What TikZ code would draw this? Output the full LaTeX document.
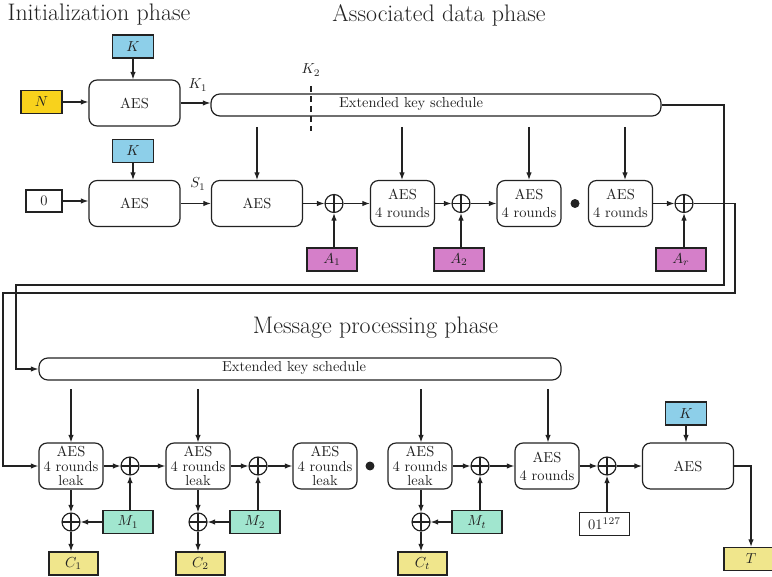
\RequirePackage{fix-cm}
\documentclass[tikz,border=0pt]{standalone}
\usetikzlibrary{arrows.meta}
\definecolor{kblue}{HTML}{8DCFE9}
\definecolor{ngold}{HTML}{F8D21C}
\definecolor{apink}{HTML}{D57FC9}
\definecolor{mgreen}{HTML}{A1E6CF}
\definecolor{cyel}{HTML}{F0E68C}
\definecolor{ink}{HTML}{222222}
\begin{document}
\begin{tikzpicture}[x=0.69pt,y=-0.69pt,line width=0.83pt,draw=ink,
  every node/.style={font=\normalsize,text=ink},
  aes/.style={draw,rounded corners=5.5pt,minimum width=62.8pt,minimum height=31.7pt,inner sep=0pt,align=center,line width=0.83pt},
  aesf/.style={aes,minimum width=44.2pt,font=\fontsize{10}{12.4}\selectfont},
  aesl/.style={aes,minimum width=44.2pt,font=\fontsize{10}{10}\selectfont},
  ibox/.style={draw,rectangle,minimum width=34.5pt,minimum height=15.9pt,inner sep=0pt,line width=0.8pt},
  kbox/.style={ibox,fill=kblue,minimum width=28.3pt},
  nbox/.style={ibox,fill=ngold,minimum width=28.3pt},
  abox/.style={ibox,fill=apink},
  mbox/.style={ibox,fill=mgreen},
  cbox/.style={ibox,fill=cyel,minimum width=33.8pt},
  ext/.style={draw,rounded corners=6.2pt,minimum height=15.2pt,inner sep=0pt,line width=0.83pt},
  xor/.style={circle,draw,minimum size=12.4pt,inner sep=0pt,line width=0.83pt,
    path picture={\draw[line width=0.83pt] (path picture bounding box.north)--(path picture bounding box.south)
      (path picture bounding box.west)--(path picture bounding box.east);}},
  dot/.style={circle,fill=ink,minimum size=6.2pt,inner sep=0pt},
  arr/.style={-{Latex[length=5.2pt,width=3.8pt]}},
  ttl/.style={font=\fontsize{16.5}{20}\selectfont}]
\useasboundingbox (0,0) rectangle (772,577);

% titles
\node[ttl] (t1) at (99,15) {Initialization phase};
\node[ttl] (t2) at (439,15) {Associated data phase};
\node[ttl] (t3) at (375.5,328) {Message processing phase};

% row 1
\node[kbox] (K1) at (133,46.5) {$K$};
\node[nbox] (N) at (41.5,102) {$N$};
\node[aes] (AES1) at (134.5,103) {AES};
\node[ext,minimum width=310.5pt] (ext1) at (436,105) {};
\node (ext1t) at (411,104) {Extended key schedule};
\node (K1l) at (198,85) {$K_1$};
\node (K2l) at (311,70) {$K_2$};
\coordinate (k2a) at (311,86);
\coordinate (k2b) at (311,131);
\draw[dash pattern=on 4.1pt off 2.8pt] (k2a) -- (k2b);
\draw[arr] (N) -- (N -| AES1.west);
\draw[arr] (K1.south) -- (K1.south |- AES1.north);
\draw[arr] (AES1.east) -- (AES1.east -| ext1.west);

% row 2
\node[ibox,minimum width=24.8pt,minimum height=15.2pt] (zero) at (44,201) {0};
\node[kbox] (K2) at (133,151) {$K$};
\node[aes] (AES2) at (134.5,203.5) {AES};
\node (S1l) at (198,184) {$S_1$};
\node[aes] (AES3) at (257,203.5) {AES};
\node[xor] (x1) at (334,203.5) {};
\node[abox] (A1) at (332,259.5) {$A_1$};
\node[aesf] (R1) at (402.5,203.5) {AES\\4 rounds};
\node[xor] (x2) at (461,203.5) {};
\node[abox] (A2) at (459,259.5) {$A_2$};
\node[aesf] (R2) at (529,203.5) {AES\\4 rounds};
\node[dot] (d1) at (575,203.5) {};
\node[aesf] (R3) at (620.5,203.5) {AES\\4 rounds};
\node[xor] (x3) at (684,203.5) {};
\node[abox] (Ar) at (681,259.5) {$A_r$};

\draw[arr] (zero) -- (zero -| AES2.west);
\draw[arr] (K2.south) -- (K2.south |- AES2.north);
\draw[arr] (AES2.east) -- (AES3.west);
\draw[arr] (AES3.east) -- (x1.west);
\draw[arr] (x1.east) -- (R1.west);
\draw[arr] (R1.east) -- (x2.west);
\draw[arr] (x2.east) -- (R2.west);
\draw[arr] (R3.east) -- (x3.west);
\draw[arr] (A1.north -| x1) -- (x1.south);
\draw[arr] (A2.north -| x2) -- (x2.south);
\draw[arr] (Ar.north -| x3) -- (x3.south);

\coordinate (ka) at (257,127);
\coordinate (kb) at (402,127);
\coordinate (kc) at (529,127);
\coordinate (kd) at (625,127);
\draw[arr] (ka) -- (ka |- AES3.north);
\draw[arr] (kb) -- (kb |- R1.north);
\draw[arr] (kc) -- (kc |- R2.north);
\draw[arr] (kd) -- (kd |- R3.north);

% row 3
\node[ext,minimum width=360.2pt] (ext2) at (300,369) {};
\node (ext2t) at (294,368) {Extended key schedule};
\node[aesl] (L1) at (71,466) {AES\\4 rounds\\leak};
\node[xor] (xa) at (130,466) {};
\node[aesl] (L2) at (198,466) {AES\\4 rounds\\leak};
\node[xor] (xb) at (258,466) {};
\node[aesl] (L3) at (325,466) {AES\\4 rounds\\leak};
\node[dot] (d2) at (370,466) {};
\node[aesl] (Lt) at (420,466) {AES\\4 rounds\\leak};
\node[xor] (xc) at (480,466) {};
\node[aesf] (R4) at (547,466) {AES\\4 rounds};
\node[xor] (xd) at (607,466) {};
\node[aes] (AESf) at (688,466) {AES};
\node[kbox] (Kf) at (686,413.5) {$K$};
\node[cbox,minimum width=37.3pt] (T) at (751,559) {$T$};
\node[ibox] (z127) at (604.5,524) {$01^{127}$};

\node[xor] (xs1) at (71,522) {};
\node[mbox] (M1) at (128,522) {$M_1$};
\node[cbox] (C1) at (73.5,563.5) {$C_1$};
\node[xor] (xs2) at (198,522) {};
\node[mbox] (M2) at (255,522) {$M_2$};
\node[cbox] (C2) at (200.5,563.5) {$C_2$};
\node[xor] (xst) at (421,522) {};
\node[mbox] (Mt) at (477,522) {$M_t$};
\node[cbox] (Ct) at (422.5,563.5) {$C_t$};

\coordinate (ma) at (71,389);
\coordinate (mb) at (198,389);
\coordinate (mc) at (421,389);
\coordinate (md) at (548,389);
\draw[arr] (ma) -- (ma |- L1.north);
\draw[arr] (mb) -- (mb |- L2.north);
\draw[arr] (mc) -- (mc |- Lt.north);
\draw[arr] (md) -- (md |- R4.north);

\draw[arr] (L1.east) -- (xa.west);
\draw[arr] (xa.east) -- (L2.west);
\draw[arr] (L2.east) -- (xb.west);
\draw[arr] (xb.east) -- (L3.west);
\draw[arr] (Lt.east) -- (xc.west);
\draw[arr] (xc.east) -- (R4.west);
\draw[arr] (R4.east) -- (xd.west);
\draw[arr] (xd.east) -- (AESf.west);
\draw[arr] (z127.north -| xd) -- (xd.south);
\draw[arr] (Kf.south) -- (Kf.south |- AESf.north);
\draw[arr] (AESf.east) -| (T.north);

\draw[arr] (L1.south) -- (xs1.north);
\draw[arr] (xs1.south) -- (xs1.south |- C1.north);
\draw[arr] (M1.west) -- (xs1.east);
\draw[arr] (M1.north -| xa) -- (xa.south);
\draw[arr] (L2.south -| xs2) -- (xs2.north);
\draw[arr] (xs2.south) -- (xs2.south |- C2.north);
\draw[arr] (M2.west) -- (xs2.east);
\draw[arr] (M2.north -| xb) -- (xb.south);
\draw[arr] (Lt.south -| xst) -- (xst.north);
\draw[arr] (xst.south) -- (xst.south |- Ct.north);
\draw[arr] (Mt.west) -- (xst.east);
\draw[arr] (Mt.north -| xc) -- (xc.south);

% long wires
\coordinate (w1a) at (724,285);
\coordinate (w1b) at (16,285);
\coordinate (w2a) at (735,293);
\coordinate (w2b) at (3,293);
\draw[arr] (ext1.east) -| (w1a) -- (w1b) |- (ext2.west);
\draw[arr] (x3.east) -| (w2a) -- (w2b) |- (L1.west);
\end{tikzpicture}
\end{document}
